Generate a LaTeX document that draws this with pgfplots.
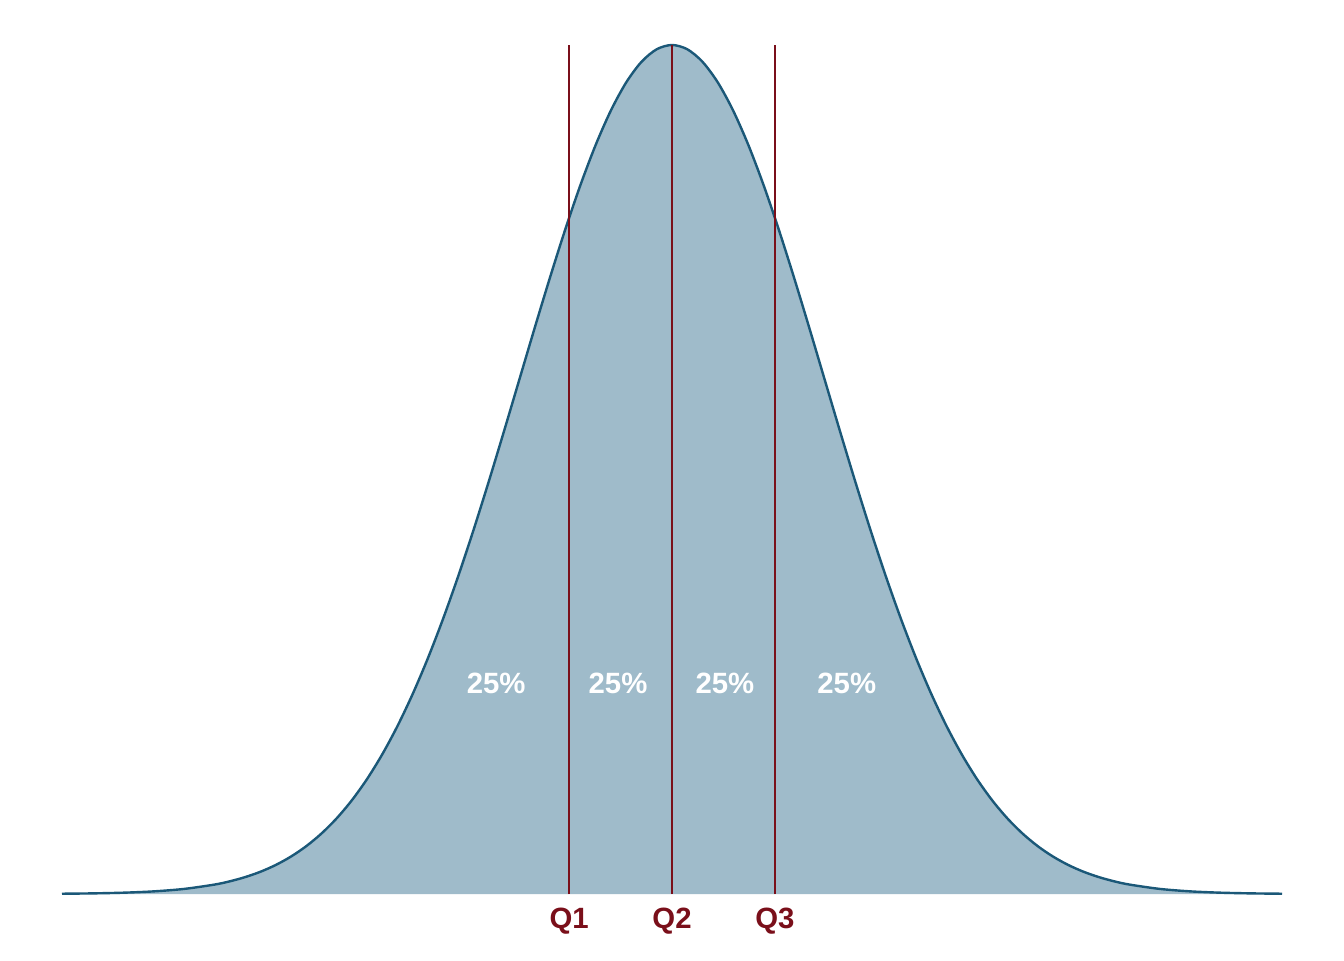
\documentclass[border=0pt]{standalone}
\usepackage{pgfplots}
\pgfplotsset{compat=1.18}
\usepackage{fontspec}
\setmainfont{Liberation Sans}
\definecolor{fillblue}{HTML}{9FBBCA}
\definecolor{lineblue}{HTML}{1B5878}
\definecolor{qred}{HTML}{7A0F1A}
\pgfplotstableread{
x y
-4.0 0.00013
-3.8 0.00029
-3.6 0.00061
-3.4 0.00123
-3.2 0.00238
-3.0 0.00443
-2.9 0.00595
-2.8 0.00792
-2.7 0.01042
-2.6 0.01358
-2.5 0.01753
-2.4 0.02239
-2.3 0.02833
-2.2 0.03547
-2.1 0.04398
-2.0 0.05399
-1.9 0.06562
-1.8 0.07895
-1.7 0.09405
-1.6 0.11092
-1.5 0.12952
-1.4 0.14973
-1.3 0.17137
-1.2 0.19419
-1.1 0.21785
-1.0 0.24197
-0.9 0.26609
-0.8 0.28969
-0.7 0.31225
-0.6 0.33322
-0.5 0.35207
-0.4 0.36827
-0.3 0.38139
-0.2 0.39104
-0.1 0.39695
0.0 0.39894
0.1 0.39695
0.2 0.39104
0.3 0.38139
0.4 0.36827
0.5 0.35207
0.6 0.33322
0.7 0.31225
0.8 0.28969
0.9 0.26609
1.0 0.24197
1.1 0.21785
1.2 0.19419
1.3 0.17137
1.4 0.14973
1.5 0.12952
1.6 0.11092
1.7 0.09405
1.8 0.07895
1.9 0.06562
2.0 0.05399
2.1 0.04398
2.2 0.03547
2.3 0.02833
2.4 0.02239
2.5 0.01753
2.6 0.01358
2.7 0.01042
2.8 0.00792
2.9 0.00595
3.0 0.00443
3.2 0.00238
3.4 0.00123
3.6 0.00061
3.8 0.00029
4.0 0.00013
}\curve
\pgfplotstableread{
x y
-0.6745 0.39894
0 0.39894
0.6745 0.39894
}\quart
\begin{document}
\begin{tikzpicture}
\useasboundingbox (-46.5pt,-49.5pt) rectangle (961.5pt,670.5pt);
\begin{axis}[
  at={(0,0)}, anchor=south west,
  scale only axis, width=915pt, height=636.75pt,
  xmin=-4, xmax=4, ymin=0, ymax=0.39894,
  hide axis, clip=false,
]
\addplot[fill=fillblue, draw=none, smooth] table {\curve} \closedcycle;
\addplot[draw=lineblue, line width=1.8pt, smooth] table {\curve};
\addplot[ycomb, draw=qred, line width=2pt, mark=none] table {\quart};
\foreach \xx/\lab in {-0.6745/Q1, 0/Q2, 0.6745/Q3}{
  \edef\tmp{\noexpand\node[anchor=base, inner sep=0pt, text=qred, font=\noexpand\fontsize{22pt}{24pt}\noexpand\selectfont\noexpand\bfseries] at (axis cs:\xx,0) [yshift=-25.5pt] {\lab};}
  \tmp
}
\foreach \xx in {-1.153,-0.354,0.347,1.146}{
  \edef\tmp{\noexpand\node[inner sep=0pt, text=white, font=\noexpand\fontsize{22pt}{24pt}\noexpand\selectfont\noexpand\bfseries] at (axis cs:\xx,0.0991) {25\noexpand\%};}
  \tmp
}
\end{axis}
\end{tikzpicture}
\end{document}
